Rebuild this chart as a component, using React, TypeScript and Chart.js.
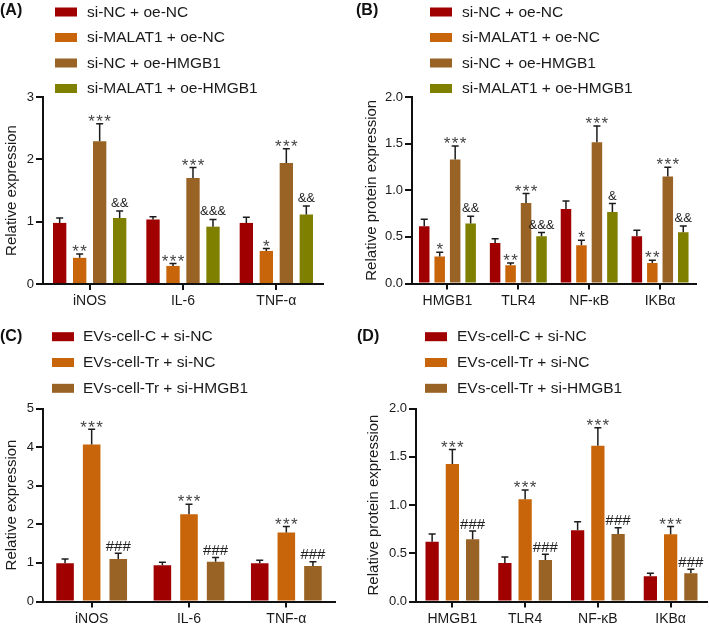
import React, { useEffect, useRef } from "react";
import { Chart, registerables } from "chart.js";
Chart.register(...registerables);

const FONT = 'Arial, "Liberation Sans", Helvetica, sans-serif';

// ---------- categories & series ----------
const catsCytokine = ["iNOS", "IL-6", "TNF-α"];
const catsProtein = ["HMGB1", "TLR4", "NF-κB", "IKBα"];
const seriesAB = ["si-NC + oe-NC", "si-MALAT1 + oe-NC", "si-NC + oe-HMGB1", "si-MALAT1 + oe-HMGB1"];
const seriesCD = ["EVs-cell-C + si-NC", "EVs-cell-Tr + si-NC", "EVs-cell-Tr + si-HMGB1"];
const colorsAB = ["#A00000", "#C8640A", "#9A6326", "#7F7F00"];
const colorsCD = ["#A00000", "#C8640A", "#9A6326"];

// ---------- panel A: relative expression ----------
const meanA = [
  [0.98, 1.035, 0.98],
  [0.42, 0.29, 0.53],
  [2.29, 1.70, 1.94],
  [1.06, 0.92, 1.115],
];
const errA = [
  [0.08, 0.045, 0.09],
  [0.06, 0.04, 0.04],
  [0.28, 0.17, 0.23],
  [0.11, 0.115, 0.135],
];
const markA = [
  ["", "", ""],
  ["**", "***", "*"],
  ["***", "***", "***"],
  ["&&", "&&&", "&&"],
];

// ---------- panel B: relative protein expression ----------
const meanB = [
  [0.614, 0.435, 0.80, 0.507],
  [0.29, 0.196, 0.41, 0.22],
  [1.33, 0.864, 1.514, 1.147],
  [0.643, 0.507, 0.767, 0.55],
];
const errB = [
  [0.076, 0.045, 0.085, 0.064],
  [0.045, 0.024, 0.054, 0.03],
  [0.145, 0.10, 0.176, 0.10],
  [0.077, 0.039, 0.09, 0.067],
];
const markB = [
  ["", "", "", ""],
  ["*", "**", "*", "**"],
  ["***", "***", "***", "***"],
  ["&&", "&&&", "&", "&&"],
];

// ---------- panel C ----------
const meanC = [
  [0.99, 0.94, 0.99],
  [4.07, 2.26, 1.79],
  [1.10, 1.03, 0.92],
];
const errC = [
  [0.11, 0.08, 0.08],
  [0.39, 0.26, 0.15],
  [0.15, 0.11, 0.11],
];
const markC = [
  ["", "", ""],
  ["***", "***", "***"],
  ["###", "###", "###"],
];

// ---------- panel D ----------
const meanD = [
  [0.62, 0.40, 0.738, 0.262],
  [1.424, 1.059, 1.613, 0.697],
  [0.645, 0.43, 0.70, 0.293],
];
const errD = [
  [0.08, 0.06, 0.089, 0.031],
  [0.152, 0.096, 0.187, 0.079],
  [0.085, 0.06, 0.065, 0.042],
];
const markD = [
  ["", "", "", ""],
  ["***", "***", "***", "***"],
  ["###", "###", "###", "###"],
];

type Panel = {
  tag: string; cats: string[]; series: string[]; colors: string[];
  means: number[][]; errs: number[][]; marks: string[][];
  yMax: number; yStep: number; decimals: number; yTitle: string;
  x0: number; y0: number; w: number; h: number;
  left: number; top: number; bottom: number; rightPad: number;
  catPct: number; barPct: number;
  boxX: number; textX: number; legY: number; legDy: number;
  tagX: number; tagY: number; titlePad: number;
};

const panels: Panel[] = [
  {
    tag: "(A)", cats: catsCytokine, series: seriesAB, colors: colorsAB,
    means: meanA, errs: errA, marks: markA, yMax: 3, yStep: 1, decimals: 0, yTitle: "Relative expression",
    x0: 0, y0: 0, w: 354, h: 315, left: 43, top: 97, bottom: 284, rightPad: 31,
    catPct: 0.857, barPct: 0.667, boxX: 55, textX: 87, legY: 12, legDy: 25.5, tagX: 0, tagY: 11, titlePad: 2.5,
  },
  {
    tag: "(B)", cats: catsProtein, series: seriesAB, colors: colorsAB,
    means: meanB, errs: errB, marks: markB, yMax: 2, yStep: 0.5, decimals: 1, yTitle: "Relative protein expression",
    x0: 354, y0: 0, w: 355, h: 315, left: 58, top: 97, bottom: 283.5, rightPad: 13.5,
    catPct: 0.873, barPct: 0.68, boxX: 76, textX: 108, legY: 12, legDy: 25.5, tagX: 2, tagY: 11, titlePad: 9,
  },
  {
    tag: "(C)", cats: catsCytokine, series: seriesCD, colors: colorsCD,
    means: meanC, errs: errC, marks: markC, yMax: 5, yStep: 1, decimals: 0, yTitle: "Relative expression",
    x0: 0, y0: 315, w: 354, h: 315, left: 43, top: 93.5, bottom: 286.5, rightPad: 19,
    catPct: 0.82, barPct: 0.66, boxX: 52, textX: 83, legY: 21.7, legDy: 25.8, tagX: 0, tagY: 21.5, titlePad: 2.5,
  },
  {
    tag: "(D)", cats: catsProtein, series: seriesCD, colors: colorsCD,
    means: meanD, errs: errD, marks: markD, yMax: 2, yStep: 0.5, decimals: 1, yTitle: "Relative protein expression",
    x0: 354, y0: 315, w: 355, h: 315, left: 62, top: 93.5, bottom: 286.5, rightPad: 2,
    catPct: 0.835, barPct: 0.655, boxX: 71, textX: 103, legY: 21.7, legDy: 25.8, tagX: 3, tagY: 21.5, titlePad: 11,
  },
];

function drawMark(ctx: CanvasRenderingContext2D, mk: string, cx: number, yt: number) {
  ctx.textAlign = "center";
  ctx.textBaseline = "alphabetic";
  if (mk[0] === "*") {
    ctx.fillStyle = "#444";
    ctx.font = `17px ${FONT}`;
    const n = mk.length;
    for (let k = 0; k < n; k++) {
      ctx.fillText("*", cx + (k - (n - 1) / 2) * 8, yt + 3.2);
    }
  } else if (mk[0] === "&") {
    ctx.fillStyle = "#222";
    ctx.font = `13px ${FONT}`;
    ctx.fillText(mk, cx, yt - 4);
  } else {
    ctx.fillStyle = "#222";
    ctx.font = `15px ${FONT}`;
    ctx.fillText(mk, cx, yt - 2.5);
  }
}

function makePlugin(p: Panel) {
  return {
    id: "overlay",
    afterDatasetsDraw(chart: any) {
      const ctx: CanvasRenderingContext2D = chart.ctx;
      const ys = chart.scales.y;
      ctx.save();
      p.means.forEach((arr, di) => {
        const meta = chart.getDatasetMeta(di);
        arr.forEach((m, i) => {
          const el = meta.data[i];
          const cx = el.x;
          const yb = ys.getPixelForValue(m);
          const yt = ys.getPixelForValue(m + p.errs[di][i]);
          ctx.strokeStyle = "#1c1c1c";
          ctx.lineWidth = 1.5;
          ctx.beginPath();
          ctx.moveTo(cx, yb);
          ctx.lineTo(cx, yt);
          ctx.moveTo(cx - 3.5, yt);
          ctx.lineTo(cx + 3.5, yt);
          ctx.stroke();
          const mk = p.marks[di][i];
          if (mk) drawMark(ctx, mk, cx, yt);
        });
      });
      ctx.restore();
    },
    afterDraw(chart: any) {
      const ctx: CanvasRenderingContext2D = chart.ctx;
      ctx.save();
      ctx.fillStyle = "#111";
      ctx.font = `bold 16px ${FONT}`;
      ctx.textAlign = "left";
      ctx.textBaseline = "middle";
      ctx.fillText(p.tag, p.tagX, p.tagY);
      p.series.forEach((s, i) => {
        const yc = p.legY + i * p.legDy;
        ctx.fillStyle = p.colors[i];
        ctx.fillRect(p.boxX, yc - 4.5, 22, 9);
        ctx.fillStyle = "#1a1a1a";
        ctx.font = `15.5px ${FONT}`;
        ctx.fillText(s, p.textX, yc + 0.5);
      });
      ctx.restore();
    },
  };
}

function PanelChart({ p }: { p: Panel }) {
  const ref = useRef<HTMLCanvasElement | null>(null);
  useEffect(() => {
    if (!ref.current) return;
    const chart = new Chart(ref.current, {
      type: "bar",
      data: {
        labels: p.cats,
        datasets: p.series.map((s, i) => ({
          label: s,
          data: p.means[i],
          backgroundColor: p.colors[i],
          borderWidth: 0,
          categoryPercentage: p.catPct,
          barPercentage: p.barPct,
        })),
      },
      options: {
        responsive: false,
        animation: false,
        devicePixelRatio: 1,
        layout: { padding: { top: p.top, right: p.rightPad, left: 0, bottom: 0 } },
        plugins: { legend: { display: false }, tooltip: { enabled: false } },
        scales: {
          x: {
            grid: { offset: false, drawOnChartArea: false, drawTicks: true, tickLength: 6, color: "#111", lineWidth: 2 },
            border: { display: true, color: "#111", width: 2 },
            ticks: { color: "#1a1a1a", font: { family: FONT, size: 14 }, padding: 3, maxRotation: 0 },
            afterFit: (s: any) => { s.height = p.h - p.bottom; },
          },
          y: {
            min: 0,
            max: p.yMax,
            grid: { drawOnChartArea: false, drawTicks: true, tickLength: 7, color: "#111", lineWidth: 2 },
            border: { display: true, color: "#111", width: 2 },
            ticks: {
              stepSize: p.yStep,
              color: "#1a1a1a",
              font: { family: FONT, size: 13 },
              padding: 2,
              callback: (v: any) => Number(v).toFixed(p.decimals),
            },
            title: {
              display: true,
              text: p.yTitle,
              color: "#1a1a1a",
              font: { family: FONT, size: 15 },
              padding: { top: p.titlePad, bottom: 0 },
            },
            afterFit: (s: any) => { s.width = p.left; },
          },
        },
      },
      plugins: [makePlugin(p)],
    } as any);
    return () => chart.destroy();
  }, [p]);
  return (
    <canvas
      ref={ref}
      width={p.w}
      height={p.h}
      style={{ position: "absolute", left: p.x0, top: p.y0, width: p.w, height: p.h }}
    />
  );
}

export default function App() {
  return (
    <div style={{ position: "absolute", left: 0, top: 0, width: 709, height: 630, background: "#fff" }}>
      {panels.map((p) => (
        <PanelChart key={p.tag} p={p} />
      ))}
    </div>
  );
}
